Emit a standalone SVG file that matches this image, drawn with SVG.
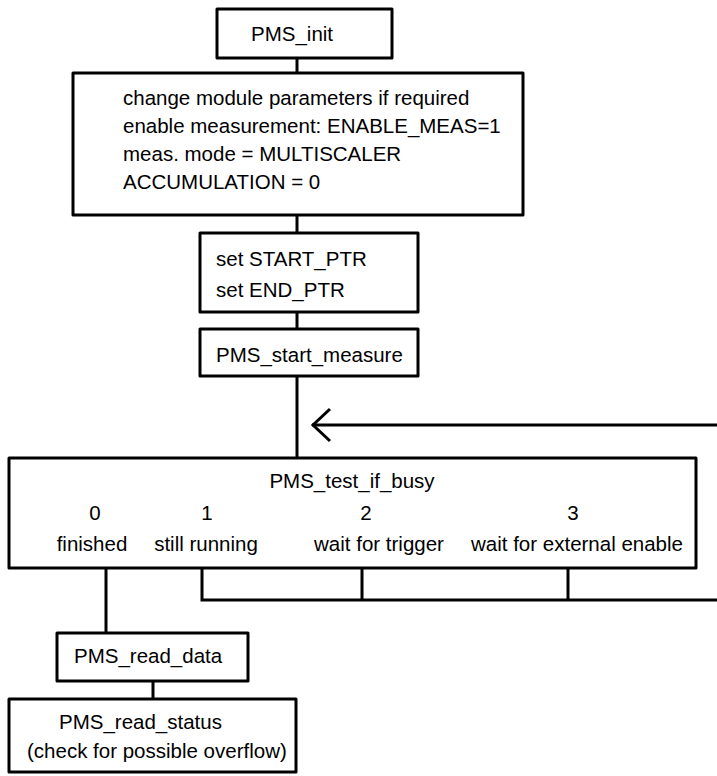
<svg xmlns="http://www.w3.org/2000/svg" width="717" height="776" viewBox="0 0 717 776">
<style>
.box{fill:#fff;stroke:#000;stroke-width:3;stroke-linejoin:round}
.ln{fill:none;stroke:#000;stroke-width:3;stroke-linecap:butt}
text{font-family:"Liberation Sans",Arial,sans-serif;font-size:20.5px;fill:#000}
.c{text-anchor:middle}
</style>
<rect width="717" height="776" fill="#fff"/>
<g id="connectors">
<line class="ln" x1="297" y1="58" x2="297" y2="73"/>
<line class="ln" x1="297" y1="215" x2="297" y2="233"/>
<line class="ln" x1="297" y1="312" x2="297" y2="329"/>
<line class="ln" x1="297" y1="376" x2="297" y2="458"/>
<line class="ln" x1="312" y1="425" x2="717" y2="425"/>
<polyline class="ln" points="330,409 313,425 330,441"/>
<line class="ln" x1="106" y1="568" x2="106" y2="633"/>
<polyline class="ln" points="202,568 202,600 717,600"/>
<line class="ln" x1="362" y1="568" x2="362" y2="600"/>
<line class="ln" x1="568" y1="568" x2="568" y2="600"/>
<line class="ln" x1="153" y1="681" x2="153" y2="699"/>
</g>
<g id="pms_init">
<rect class="box" x="217" y="9" width="175" height="49"/>
<text x="251" y="41">PMS_init</text>
</g>
<g id="params">
<rect class="box" x="73" y="73" width="450" height="142"/>
<text x="123" y="105">change module parameters if required</text>
<text x="123" y="133">enable measurement: ENABLE_MEAS=1</text>
<text x="123" y="161">meas. mode = MULTISCALER</text>
<text x="123" y="189">ACCUMULATION = 0</text>
</g>
<g id="pointers">
<rect class="box" x="200" y="233" width="218" height="79"/>
<text x="216" y="266">set START_PTR</text>
<text x="216" y="297">set END_PTR</text>
</g>
<g id="start_measure">
<rect class="box" x="200" y="329" width="218" height="47"/>
<text x="216" y="362">PMS_start_measure</text>
</g>
<g id="test_if_busy">
<rect class="box" x="9" y="458" width="687" height="110"/>
<text class="c" x="352" y="488">PMS_test_if_busy</text>
<text class="c" x="95" y="520">0</text>
<text class="c" x="207" y="520">1</text>
<text class="c" x="366" y="520">2</text>
<text class="c" x="573" y="520">3</text>
<text class="c" x="92" y="551">finished</text>
<text class="c" x="206" y="551">still running</text>
<text class="c" x="379" y="551">wait for trigger</text>
<text class="c" x="577" y="551">wait for external enable</text>
</g>
<g id="read_data">
<rect class="box" x="57" y="633" width="191" height="48"/>
<text x="74" y="663">PMS_read_data</text>
</g>
<g id="read_status">
<rect class="box" x="9" y="699" width="287" height="73"/>
<text x="59" y="729">PMS_read_status</text>
<text x="27" y="758">(check for possible overflow)</text>
</g>
</svg>
